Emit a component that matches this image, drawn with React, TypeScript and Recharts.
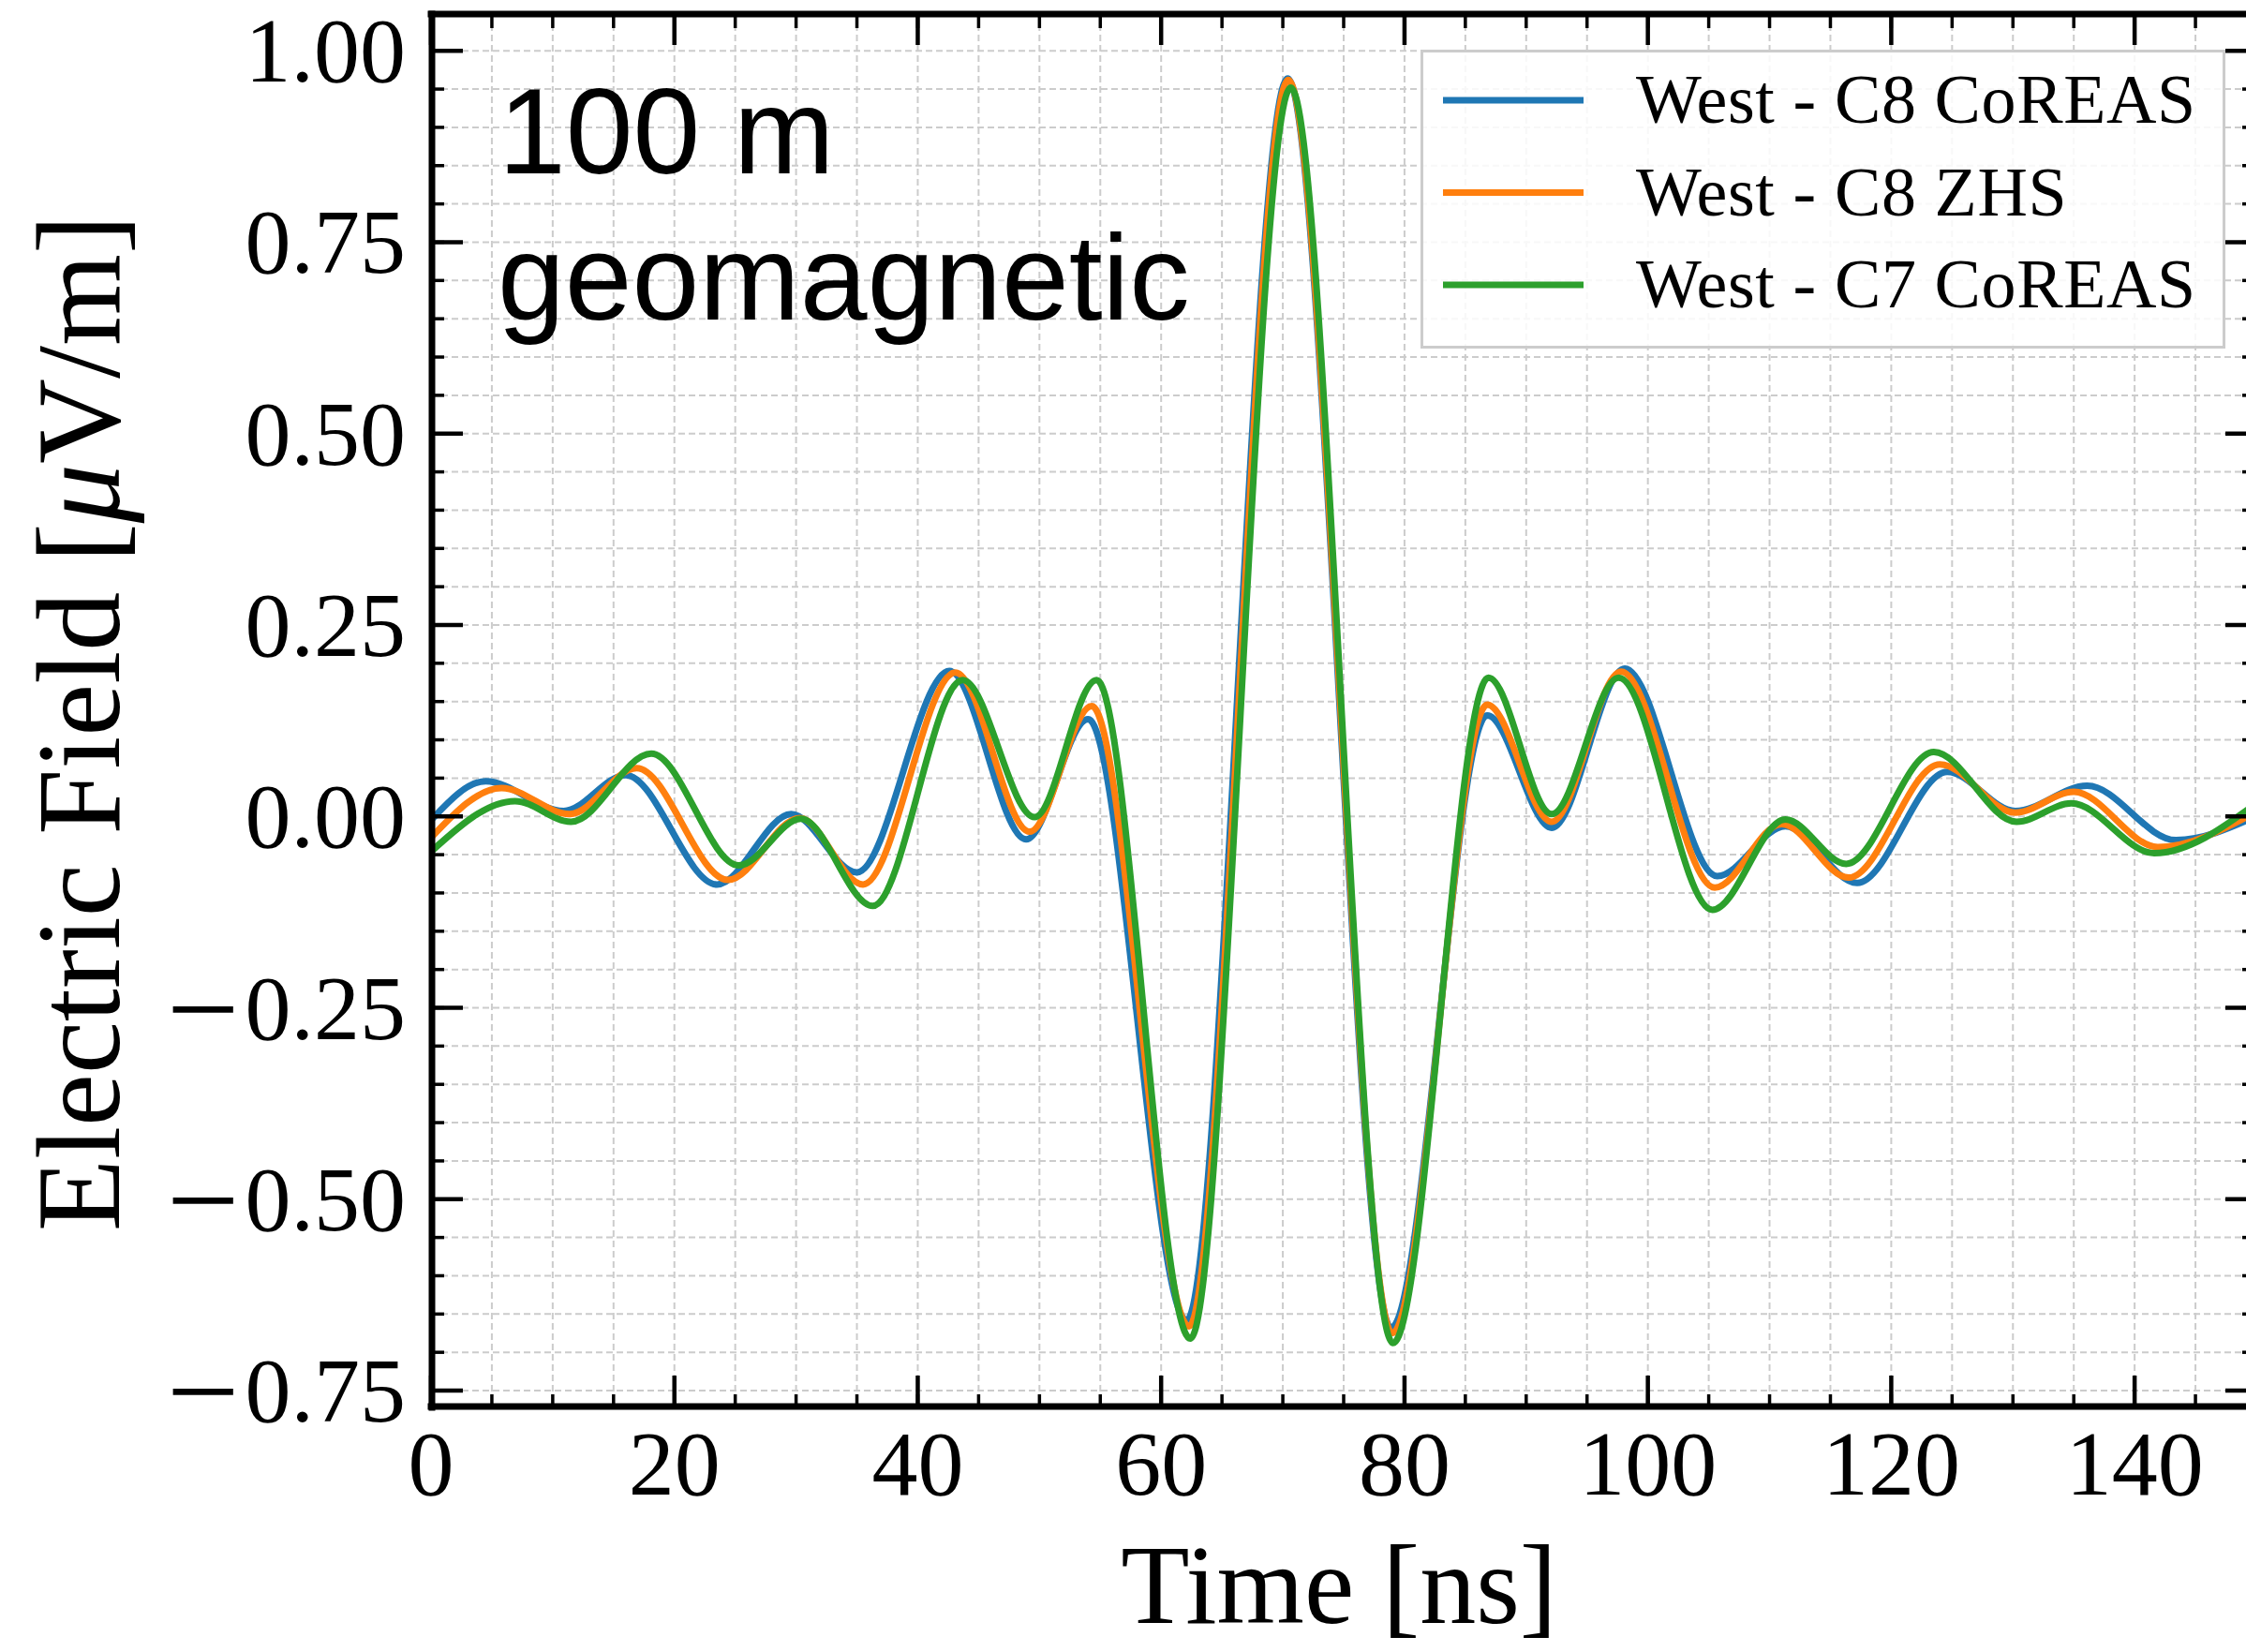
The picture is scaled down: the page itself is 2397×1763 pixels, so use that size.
import React from 'react';
import { CartesianGrid, Label, Legend, Line, LineChart, XAxis, YAxis } from 'recharts';

// extrema of the three traces (time in ns, field in uV/m)
const c8CoreasTime = [0, 4.5, 10.9, 16.0, 23.5, 29.6, 35.0, 42.6, 48.9, 54.0, 62.1, 70.4, 78.9, 86.8, 92.1, 98.1, 105.7, 111.3, 117.2, 124.6, 130.2, 136.1, 143.4, 150];
const c8CoreasField = [-0.005, 0.046, 0.007, 0.054, -0.089, 0.003, -0.073, 0.19, -0.03, 0.127, -0.658, 0.964, -0.668, 0.132, -0.015, 0.193, -0.078, -0.013, -0.087, 0.058, 0.007, 0.04, -0.031, 0.0];

const c8ZhsTime = [0, 5.8, 11.4, 16.9, 24.4, 30.3, 35.5, 43.1, 49.2, 54.3, 62.3, 70.45, 79.0, 86.8, 92.1, 97.8, 105.5, 111.0, 116.5, 124.0, 130.2, 135.0, 141.9, 150];
const c8ZhsField = [-0.028, 0.037, 0.003, 0.063, -0.083, -0.002, -0.089, 0.188, -0.02, 0.144, -0.666, 0.962, -0.675, 0.146, -0.007, 0.189, -0.093, -0.01, -0.08, 0.068, 0.005, 0.032, -0.04, 0.006];

const c7CoreasTime = [0, 6.9, 11.5, 18.1, 25.3, 30.4, 36.3, 43.7, 49.6, 54.7, 62.4, 70.65, 79.05, 86.9, 92.1, 97.6, 105.3, 111.3, 116.3, 123.5, 130.3, 134.8, 141.6, 150];
const c7CoreasField = [-0.046, 0.02, -0.007, 0.082, -0.064, -0.003, -0.117, 0.178, -0.001, 0.178, -0.682, 0.952, -0.688, 0.181, 0.003, 0.181, -0.122, -0.004, -0.062, 0.084, -0.007, 0.017, -0.048, 0.017];

const xMajorTicks = [0, 20, 40, 60, 80, 100, 120, 140];
const xMinorTicks = [0, 5, 10, 15, 20, 25, 30, 35, 40, 45, 50, 55, 60, 65, 70, 75, 80, 85, 90, 95, 100, 105, 110, 115, 120, 125, 130, 135, 140, 145, 150];
const yMajorTicks = [-0.75, -0.5, -0.25, 0, 0.25, 0.5, 0.75, 1.0];
const yMinorTicks = [-0.75, -0.7, -0.65, -0.6, -0.55, -0.5, -0.45, -0.4, -0.35, -0.3, -0.25, -0.2, -0.15, -0.1, -0.05, 0, 0.05, 0.1, 0.15, 0.2, 0.25, 0.3, 0.35, 0.4, 0.45, 0.5, 0.55, 0.6, 0.65, 0.7, 0.75, 0.8, 0.85, 0.9, 0.95, 1.0];

const SERIES = [
  { key: 'c8coreas', name: 'West - C8 CoREAS', color: '#1f77b4', time: c8CoreasTime, field: c8CoreasField },
  { key: 'c8zhs', name: 'West - C8 ZHS', color: '#ff7f0e', time: c8ZhsTime, field: c8ZhsField },
  { key: 'c7coreas', name: 'West - C7 CoREAS', color: '#2ca02c', time: c7CoreasTime, field: c7CoreasField },
];

const SERIF = '"Liberation Serif", "DejaVu Serif", serif';
const SANS = '"Liberation Sans", Arial, sans-serif';

const W = 2420;
const H = 1763;
// each axis below takes 1px, two per side
const margin = { top: 15, right: 12, bottom: 261, left: 460 };
const PLOT_LEFT = 462;
const PLOT_BOTTOM = 1500;
const X_DOMAIN: [number, number] = [0, 150];
const Y_DOMAIN: [number, number] = [-0.772, 1.048];

// one row per time stamp, each series only fills its own points
const table = (() => {
  const rows = new Map<number, Record<string, number>>();
  SERIES.forEach((s) => {
    s.time.forEach((t, i) => {
      const row = rows.get(t) ?? { t };
      row[s.key] = s.field[i];
      rows.set(t, row);
    });
  });
  return [...rows.values()].sort((a, b) => a.t - b.t);
})();

const spine = { stroke: '#000', strokeWidth: 7, strokeLinecap: 'square' as const };
const majorTick = { stroke: '#000', strokeWidth: 4.5 };
const minorTick = { stroke: '#000', strokeWidth: 3.5 };

const NoTick = () => null;

const XTickLabel = (props: any) => (
  <text x={props.x} y={PLOT_BOTTOM + 95} textAnchor="middle" fontFamily={SERIF} fontSize={98} fill="#000">
    {String(props.payload.value)}
  </text>
);

// wide minus like the LaTeX one
const YTickLabel = (props: any) => {
  const v = Number(props.payload.value);
  const body = Math.abs(v).toFixed(2);
  return (
    <text x={PLOT_LEFT - 29} y={props.y + 33} textAnchor="end" fontFamily={SERIF} fontSize={98} fill="#000">
      {v < 0 && (
        <tspan fontSize={138} dy={14}>
          {'\u2212'}
        </tspan>
      )}
      {v < 0 && (
        <tspan dx={6} dy={-14}>
          {body}
        </tspan>
      )}
      {v >= 0 && body}
    </text>
  );
};

const renderXTitle = (props: any) => {
  const vb = props.viewBox;
  return (
    <text x={vb.x + vb.width / 2 - 5} y={1732} textAnchor="middle" fontFamily={SERIF} fontSize={120} fill="#000">
      Time [ns]
    </text>
  );
};

const renderYTitle = (props: any) => {
  const vb = props.viewBox;
  const cy = vb.y + vb.height / 2 + 13;
  return (
    <text x={127} y={cy} transform={`rotate(-90 127 ${cy})`} textAnchor="middle" fontFamily={SERIF} fontSize={126} fill="#000">
      Electric Field [<tspan fontStyle="italic">μ</tspan>V/m]
    </text>
  );
};

const renderLegend = () => (
  <svg width={859} height={319} style={{ display: 'block' }}>
    <rect x={1.5} y={1.5} width={856} height={316} fill="#fff" fillOpacity={0.85} stroke="#cccccc" strokeWidth={3} />
    {SERIES.map((s, i) => (
      <g key={s.key}>
        <line x1={24} x2={174} y1={54 + i * 98.5} y2={54 + i * 98.5} stroke={s.color} strokeWidth={7} />
        <text x={230} y={78 + i * 98.5} fontFamily={SERIF} fontSize={74} letterSpacing={0.6} fill="#000">
          {s.name}
        </text>
      </g>
    ))}
  </svg>
);

export default function App() {
  return (
    <div style={{ position: 'absolute', left: 0, top: 0, width: 2397, height: 1763, overflow: 'hidden', background: '#fff' }}>
      <LineChart width={W} height={H} data={table} margin={margin}>
        <CartesianGrid stroke="#cccccc" strokeWidth={2} strokeDasharray="7 4" />

        {/* minor axes carry the series and the grid */}
        <XAxis dataKey="t" type="number" domain={X_DOMAIN} allowDataOverflow ticks={xMinorTicks} interval={0} height={1} mirror tickSize={14} tickLine={minorTick} axisLine={false} tick={NoTick} />
        <YAxis type="number" domain={Y_DOMAIN} allowDataOverflow ticks={yMinorTicks} interval={0} width={1} mirror tickSize={14} tickLine={minorTick} axisLine={false} tick={NoTick} />

        <XAxis xAxisId="xb" dataKey="t" type="number" domain={X_DOMAIN} allowDataOverflow ticks={xMajorTicks} interval={0} height={1} mirror tickSize={33} tickLine={majorTick} axisLine={spine} tick={<XTickLabel />}>
          <Label content={renderXTitle} />
        </XAxis>
        <XAxis xAxisId="xt" dataKey="t" orientation="top" type="number" domain={X_DOMAIN} allowDataOverflow ticks={xMajorTicks} interval={0} height={1} mirror tickSize={33} tickLine={majorTick} axisLine={spine} tick={NoTick} />
        <XAxis xAxisId="xtm" dataKey="t" orientation="top" type="number" domain={X_DOMAIN} allowDataOverflow ticks={xMinorTicks} interval={0} height={1} mirror tickSize={14} tickLine={minorTick} axisLine={false} tick={NoTick} />

        <YAxis yAxisId="yl" type="number" domain={Y_DOMAIN} allowDataOverflow ticks={yMajorTicks} interval={0} width={1} mirror tickSize={33} tickLine={majorTick} axisLine={spine} tick={<YTickLabel />}>
          <Label content={renderYTitle} />
        </YAxis>
        <YAxis yAxisId="yr" orientation="right" type="number" domain={Y_DOMAIN} allowDataOverflow ticks={yMajorTicks} interval={0} width={1} mirror tickSize={33} tickLine={majorTick} axisLine={spine} tick={NoTick} />
        <YAxis yAxisId="yrm" orientation="right" type="number" domain={Y_DOMAIN} allowDataOverflow ticks={yMinorTicks} interval={0} width={1} mirror tickSize={14} tickLine={minorTick} axisLine={false} tick={NoTick} />

        {SERIES.map((s) => (
          <Line key={s.key} dataKey={s.key} name={s.name} type="monotone" stroke={s.color} strokeWidth={7} dot={false} connectNulls isAnimationActive={false} />
        ))}

        <Legend content={renderLegend} layout="vertical" align="center" verticalAlign="middle" wrapperStyle={{ left: 1516, top: 53, width: 859, height: 319 }} />
      </LineChart>

      <svg width={2397} height={1763} style={{ position: 'absolute', left: 0, top: 0, pointerEvents: 'none' }}>
        <text x={532} y={185} fontFamily={SANS} fontSize={129} fill="#000">100 m</text>
        <text x={531} y={341} fontFamily={SANS} fontSize={129} fill="#000">geomagnetic</text>
      </svg>
    </div>
  );
}
